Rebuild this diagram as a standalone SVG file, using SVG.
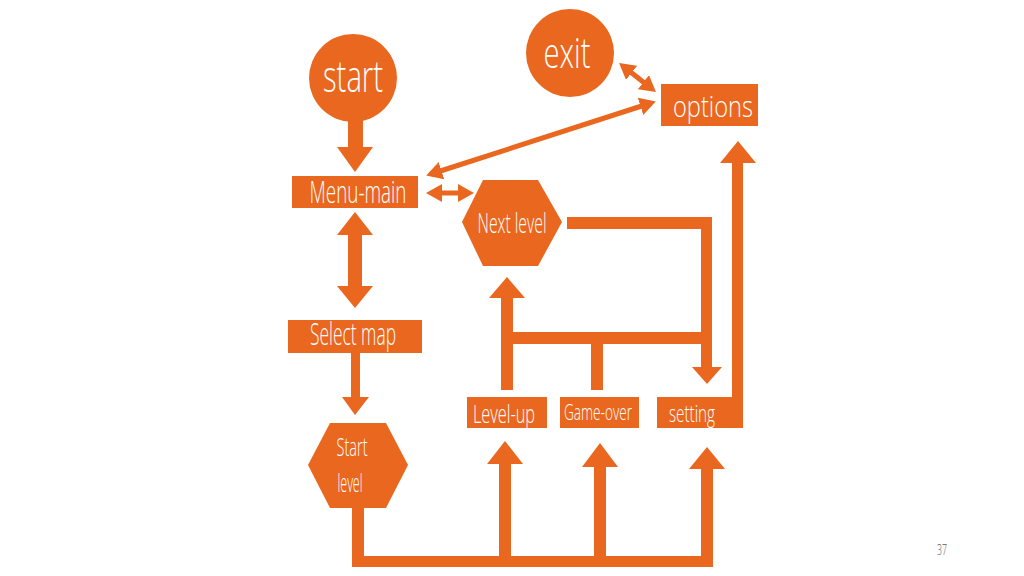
<svg xmlns="http://www.w3.org/2000/svg" width="1024" height="576" viewBox="0 0 1024 576">
<style>
.n{fill:#E9671E}
.c{fill:#E9671E}
.t{fill:#ffffff;font-family:"Open Sans","Liberation Sans",sans-serif;font-weight:300;text-anchor:middle}
.thin{stroke:#E9671E;stroke-width:5;fill:none;marker-start:url(#ah);marker-end:url(#ah)}
</style>
<defs>
<marker id="ah" markerUnits="userSpaceOnUse" viewBox="0 0 16 18" markerWidth="16" markerHeight="18" refX="11" refY="9" orient="auto-start-reverse">
<path d="M0,0 L16,9 L0,18 z" fill="#E9671E"/>
</marker>
</defs>
<rect width="1024" height="576" fill="#ffffff"/>
<g id="connectors">
<rect class="c" x="348" y="116" width="15" height="32"/>
<polygon class="c" points="337,147 373,147 355,172"/>
<rect class="c" x="348" y="234" width="14" height="53"/>
<polygon class="c" points="337,235 373,235 355,212"/>
<polygon class="c" points="337,286 373,286 355,308"/>
<rect class="c" x="351" y="352" width="9" height="46"/>
<polygon class="c" points="342,397 369,397 355,415"/>
<path class="c" d="M567,217 H712 V368 H701 V229 H567 Z"/>
<polygon class="c" points="692,367 722,367 707,384"/>
<rect class="c" x="501" y="332" width="201" height="12"/>
<rect class="c" x="501" y="297" width="12" height="93"/>
<polygon class="c" points="489,298 525,298 507,277"/>
<rect class="c" x="591" y="343" width="12" height="47"/>
<rect class="c" x="732" y="161" width="11" height="240"/>
<polygon class="c" points="720,163 756,163 738,141"/>
<path class="c" d="M352,506 H364 V556 H713 V567 H352 Z"/>
<rect class="c" x="499" y="463" width="12" height="94"/>
<polygon class="c" points="487,464 523,464 505,441"/>
<rect class="c" x="594" y="466" width="12" height="91"/>
<polygon class="c" points="582,467 618,467 600,443"/>
<rect class="c" x="701" y="468" width="12" height="90"/>
<polygon class="c" points="689,469 725,469 707,447"/>
<line class="thin" x1="623" y1="66" x2="652" y2="89"/>
<line class="thin" x1="431" y1="174" x2="651" y2="103"/>
<line class="thin" x1="431" y1="193" x2="469" y2="193"/>
</g>
<g id="start">
<circle class="n" cx="353" cy="78" r="44"/>
<text class="t" x="353" y="92" font-size="45" textLength="60" lengthAdjust="spacingAndGlyphs">start</text>
</g>
<g id="exit">
<circle class="n" cx="570" cy="53" r="44"/>
<text class="t" x="567" y="68" font-size="43" textLength="47" lengthAdjust="spacingAndGlyphs">exit</text>
</g>
<g id="options">
<rect class="n" x="661" y="84" width="97" height="42"/>
<text class="t" x="713" y="117" font-size="29" textLength="80" lengthAdjust="spacingAndGlyphs">options</text>
</g>
<g id="menu-main">
<rect class="n" x="292" y="176" width="126" height="32"/>
<text class="t" x="358" y="203" font-size="31" textLength="97" lengthAdjust="spacingAndGlyphs">Menu-main</text>
</g>
<g id="next-level">
<polygon class="n" points="462,222 483,180 538,180 562,222 538,266 483,266"/>
<text class="t" x="512" y="233" font-size="27" textLength="69" lengthAdjust="spacingAndGlyphs">Next level</text>
</g>
<g id="select-map">
<rect class="n" x="288" y="320" width="134" height="33"/>
<text class="t" x="353" y="345" font-size="31" textLength="86" lengthAdjust="spacingAndGlyphs">Select map</text>
</g>
<g id="start-level">
<polygon class="n" points="308,465 330,423 386,423 408,465 386,508 330,508"/>
<text class="t" x="352" y="456" font-size="26" textLength="31" lengthAdjust="spacingAndGlyphs">Start</text>
<text class="t" x="350" y="492" font-size="26" textLength="25" lengthAdjust="spacingAndGlyphs">level</text>
</g>
<g id="level-up">
<rect class="n" x="467" y="397" width="80" height="31"/>
<text class="t" x="504" y="423" font-size="25" textLength="62" lengthAdjust="spacingAndGlyphs">Level-up</text>
</g>
<g id="game-over">
<rect class="n" x="560" y="397" width="79" height="31"/>
<text class="t" x="598" y="420" font-size="22" textLength="68" lengthAdjust="spacingAndGlyphs">Game-over</text>
</g>
<g id="setting">
<rect class="n" x="657" y="397" width="86" height="31"/>
<text class="t" x="692" y="422" font-size="24" textLength="46" lengthAdjust="spacingAndGlyphs">setting</text>
</g>
<text x="942" y="555" font-family="Open Sans, Liberation Sans, sans-serif" font-weight="300" font-size="14" fill="#555555" text-anchor="middle" textLength="10" lengthAdjust="spacingAndGlyphs">37</text>
</svg>
